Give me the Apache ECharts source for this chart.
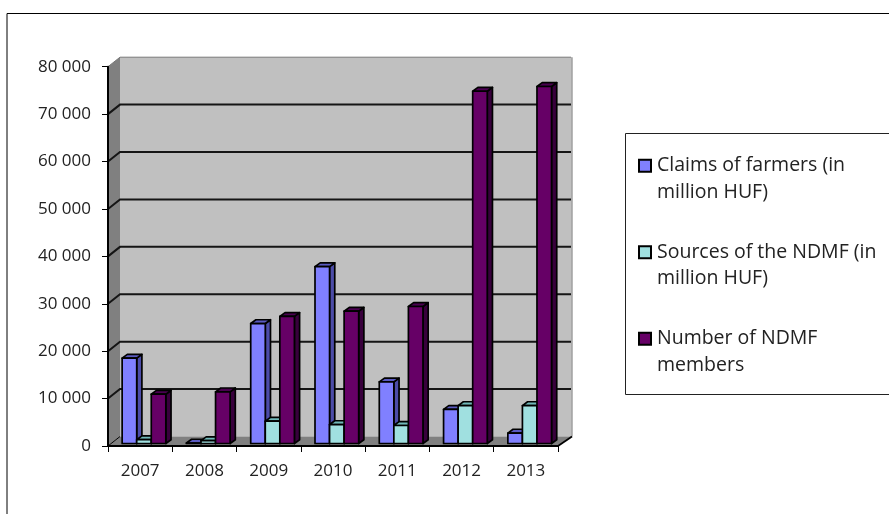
<!DOCTYPE html>
<html><head><meta charset="utf-8">
<style>html,body{margin:0;padding:0;background:#fff}#c{width:889px;height:514px}</style>
<script src="https://cdn.jsdelivr.net/npm/echarts@6/dist/echarts.min.js"></script>
</head><body><div id="c"></div>
<script>
const years = ['2007','2008','2009','2010','2011','2012','2013'];
const yTicks = [10000,20000,30000,40000,50000,60000,70000,80000];
const claims = [18000,100,25300,37300,13000,7200,2200];
const sources = [800,600,4700,4000,3800,8000,8000];
const members = [10400,10900,26800,27900,28900,74300,75300];
const labels = ['Claims of farmers (in\nmillion HUF)','Sources of the NDMF (in\nmillion HUF)','Number of NDMF\nmembers'];
const FONT = '"Open Sans"';
const DX = 12, DY = -9.5;

const chart = echarts.init(document.getElementById('c'), null, {renderer:'canvas'});

function wallItem(params, api){
  const o = api.coord([0,0]), t = api.coord([0,80000]);
  const cw = api.size([1,0])[0];
  const l = o[0]-cw/2, r = l+cw*7, b = o[1], tp = t[1];
  const poly = (pts,fill)=>({type:'polygon',shape:{points:pts},style:{fill:fill,stroke:null}});
  return {type:'group',children:[
    poly([[l+DX,b+DY],[r+DX+2,b+DY],[r+DX+2,tp+DY],[l+DX,tp+DY]],'#c0c0c0'),
    poly([[l,b],[l+DX,b+DY],[l+DX,tp+DY],[l,tp]],'#808080'),
    poly([[l,b],[l+DX,b+DY],[r+DX+2,b+DY],[r,b]],'#808080'),
    {type:'line',shape:{x1:r+DX+2,y1:b+DY,x2:r+DX+2,y2:tp+DY},style:{stroke:'#a0a0a0',lineWidth:1.5}},
    {type:'line',shape:{x1:r+DX+2,y1:b+DY,x2:r,y2:b},style:{stroke:'#000',lineWidth:1.8}},
    {type:'line',shape:{x1:l,y1:b,x2:l+DX,y2:b+DY},style:{stroke:'#000',lineWidth:1}}
  ]};
}
function gridItem(params, api){
  const y = api.coord([0,api.value(1)])[1];
  const cw = api.size([1,0])[0];
  const l = api.coord([0,0])[0]-cw/2, r = l+cw*7;
  const top = api.value(1) === 80000;
  return {type:'polyline',shape:{points:[[l,y],[l+DX,y+DY],[r+DX+1,y+DY]]},
    style:{stroke:top?'#777':'#151515',lineWidth:top?1:2,fill:null}};
}
function barRender(slot, front, side, topc){
  return function(params, api){
    const c = api.coord([api.value(0),api.value(1)]);
    const z = api.coord([api.value(0),0]);
    const cw = api.size([1,0])[0];
    const w = cw*0.2265;
    const x0 = c[0]-cw/2+cw*0.22+slot*w;
    const x1 = x0+w, y0 = c[1]-2.5, yb = z[1]-2.5, dx=5.2, dy=-3.8;
    const st = f=>({fill:f,stroke:'#000',lineWidth:1.7,lineJoin:'round'});
    return {type:'group',children:[
      {type:'polygon',shape:{points:[[x1,y0],[x1+dx,y0+dy],[x1+dx,yb+dy],[x1,yb]]},style:st(side)},
      {type:'polygon',shape:{points:[[x0,y0],[x0+dx,y0+dy],[x1+dx,y0+dy],[x1,y0]]},style:st(topc)},
      {type:'rect',shape:{x:x0,y:y0,width:w,height:yb-y0},style:st(front)}
    ]};
  };
}
const mk = (vals)=>vals.map((v,i)=>[i,v]);
function barSeries(name,vals,slot,front,side,topc){
  return {type:'custom',name:name,data:mk(vals),clip:false,z:5,
    encode:{x:0,y:1},renderItem:barRender(slot,front,side,topc),
    itemStyle:{color:front,borderColor:'#000',borderWidth:2}};
}
chart.setOption({
  animation:false,
  backgroundColor:'#fff',
  textStyle:{fontFamily:FONT},
  grid:{left:108,right:331,top:66.7,bottom:68,containLabel:false},
  xAxis:{type:'category',data:years,boundaryGap:true,
    axisLine:{show:true,onZero:false,lineStyle:{color:'#000',width:2}},
    axisTick:{show:true,length:6,alignWithLabel:false,lineStyle:{color:'#000',width:1}},
    axisLabel:{color:'#222',fontFamily:FONT,fontSize:17,margin:17},z:6},
  yAxis:{type:'value',min:0,max:80000,interval:10000,
    axisLine:{show:true,lineStyle:{color:'#000',width:2}},
    axisTick:{show:true,length:6,lineStyle:{color:'#000',width:1}},
    splitLine:{show:false},
    axisLabel:{color:'#222',fontFamily:FONT,fontSize:17,margin:17,
      formatter:v=>String(v).replace(/\B(?=(\d{3})+$)/g,' ')},z:6},
  legend:{show:true,orient:'vertical',left:638,top:126,itemWidth:12,itemHeight:12,itemGap:7,
    icon:'rect',data:labels,selectedMode:false,padding:0,
    formatter:n=>'\u00a0\n'+n,
    textStyle:{color:'#222',fontFamily:FONT,fontSize:19.5,lineHeight:26.5,padding:[0,0,0,1]},
    itemStyle:{borderColor:'#000',borderWidth:2}},
  graphic:[
    {type:'polyline',silent:true,shape:{points:[[7,514],[7,13.5],[889,13.5]]},style:{stroke:'#000',lineWidth:1,fill:null},z:1},
    {type:'rect',silent:true,shape:{x:625.5,y:133.5,width:300,height:261},style:{fill:'#fff',stroke:'#222',lineWidth:1},z:1}
  ],
  series:[
    {type:'custom',name:'wall',data:[[0,0]],clip:false,z:1,encode:{x:0,y:1},renderItem:wallItem,silent:true},
    {type:'custom',name:'gridlines',data:yTicks.map(v=>[0,v]),clip:false,z:2,encode:{x:0,y:1},renderItem:gridItem,silent:true},
    barSeries(labels[0],claims,0,'#8080ff','#4c4ca8','#5a5ac0'),
    barSeries(labels[1],sources,1,'#a0e0e0','#6fb0b0','#70b8b8'),
    barSeries(labels[2],members,2,'#660066','#38003c','#4a0050')
  ]
});
</script></body></html>
